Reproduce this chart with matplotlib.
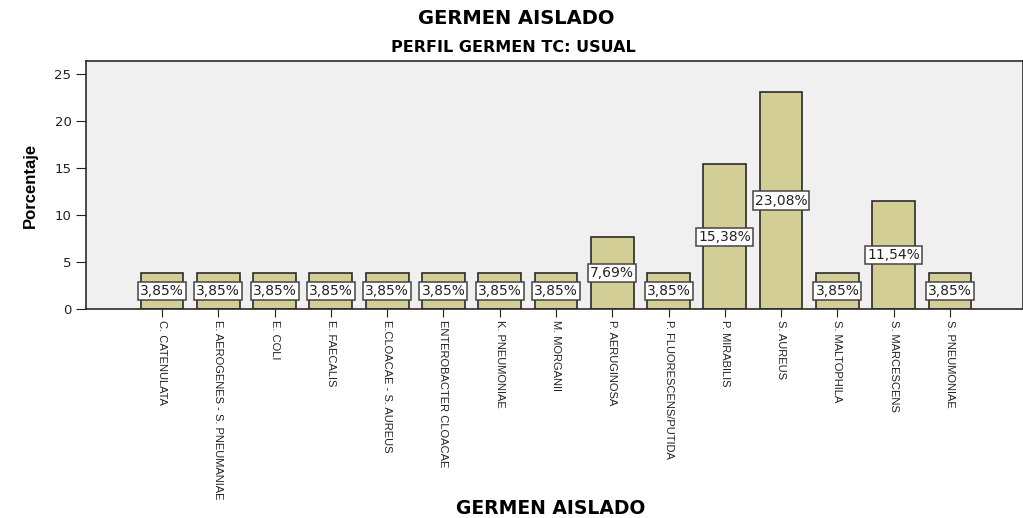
import matplotlib.pyplot as plt
import numpy as np

plt.rcParams['font.family'] = ['Liberation Sans', 'DejaVu Sans']

germenes = ['C. CATENULATA', 'E. AEROGENES - S. PNEUMANIAE', 'E. COLI', 'E. FAECALIS',
            'E.CLOACAE - S. AUREUS', 'ENTEROBACTER CLOACAE', 'K. PNEUMONIAE', 'M. MORGANII',
            'P. AERUGINOSA', 'P. FLUORESCENS/PUTIDA', 'P. MIRABILIS', 'S. AUREUS',
            'S. MALTOPHILA', 'S. MARCESCENS', 'S. PNEUMONIAE']
porcentaje = [3.85, 3.85, 3.85, 3.85, 3.85, 3.85, 3.85, 3.85, 7.69, 3.85, 15.38, 23.08,
              3.85, 11.54, 3.85]
etiquetas = [('%.2f%%' % v).replace('.', ',') for v in porcentaje]

fig = plt.figure(figsize=(10.23, 5.18), dpi=100)
ax = fig.add_axes([0.0841, 0.4035, 0.916, 0.4788])
ax.set_facecolor('#f0f0f0')

x = np.arange(len(germenes))
ax.bar(x, porcentaje, width=0.76, color='#d3ce96', edgecolor='#2b2b2b', linewidth=1.2, zorder=2)

for xi, v, t in zip(x, porcentaje, etiquetas):
    ax.text(xi, v / 2, t, ha='center', va='center', fontsize=10, family='DejaVu Sans',
            color='#222222', zorder=3,
            bbox=dict(boxstyle='square,pad=0.15', fc='white', ec='#444444', lw=1.1))

ax.set_xlim(-1.35, 15.3)
ax.set_ylim(0, 26.4)
ax.set_yticks([0, 5, 10, 15, 20, 25])
ax.set_yticklabels([0, 5, 10, 15, 20, 25], family='DejaVu Sans')
ax.set_xticks(x)
ax.set_xticklabels(germenes, rotation=270, ha='center', va='top', fontsize=8)
ax.tick_params(axis='y', direction='out', length=7, labelsize=9.5, colors='#222222')
ax.tick_params(axis='x', direction='out', length=6, pad=2, colors='#222222')
for s in ax.spines.values():
    s.set_color('#2b2b2b')
    s.set_linewidth(1.2)

ax.set_ylabel('Porcentaje', fontweight='bold', fontsize=12, labelpad=12)

fig.text(0.505, 0.965, 'GERMEN AISLADO', ha='center', va='center', fontsize=14,
         fontweight='bold', family='DejaVu Sans')
fig.text(0.502, 0.908, 'PERFIL GERMEN TC: USUAL', ha='center', va='center', fontsize=11.5,
         fontweight='bold', family='DejaVu Sans')
fig.text(0.538, 0.0, 'GERMEN AISLADO', ha='center', va='bottom', fontsize=13.5,
         fontweight='bold', family='DejaVu Sans')

fig.savefig('out.png', dpi=100)
